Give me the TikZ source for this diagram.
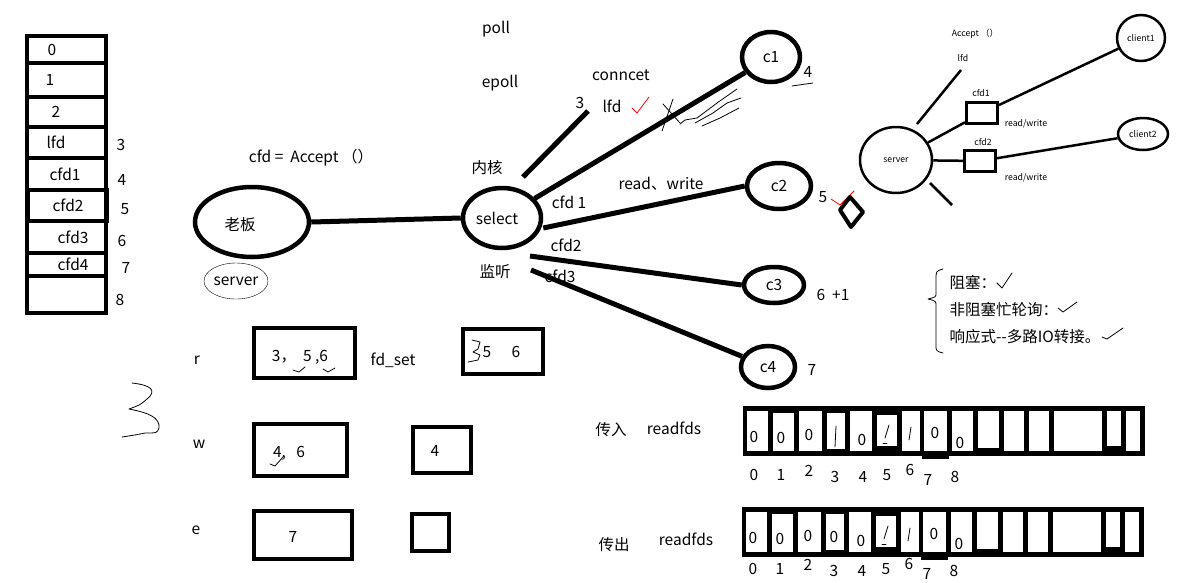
\documentclass[tikz,border=0pt]{standalone}
\usepackage{fontspec}
\setmainfont{Noto Sans CJK SC}
\usetikzlibrary{shapes.geometric}

\begin{document}
\begin{tikzpicture}[
  x=1pt,y=-1pt,
  font=\fontsize{15.5}{17}\selectfont,
  oval/.style={draw,ellipse,line width=4.5pt,inner sep=0pt},
  wire/.style={line width=5pt},
  fdbox/.style={draw,line width=4.5pt,inner sep=0pt},
  pen/.style={line width=0.8pt,line cap=round,line join=round},
  redpen/.style={pen,red},
  small/.style={font=\fontsize{8.7}{10}\selectfont},
  minioval/.style={draw,ellipse,line width=2.5pt,inner sep=0pt,small},
  minibox/.style={draw,line width=3pt,inner sep=0pt,minimum width=31pt,minimum height=21pt},
]
\useasboundingbox (0,0) rectangle (1197,582);

% descriptor table on the left
\foreach \i/\ya/\yb/\xt/\txt in {0/36/63/52/0, 1/63/97/50/1, 2/97/127/56/2,
    3/127/158/56/lfd, 4/158/190/65/cfd1, 5/190/221/68/cfd2, 6/221/253/73/cfd3,
    7/253/276/73/cfd4, 8/276/313/66/{}}
{
  \draw[line width=4.5pt] (27,\ya) rectangle (106,\yb);
  \node (fd\i) at (\xt,{(\ya+\yb)/2}) {\txt};
}
\draw[line width=4.5pt] (27,127) -- (27,158);
\draw[line width=4.5pt] (28,190) rectangle (107,221);
\foreach \n/\x/\y in {3/121/145, 4/122/180, 5/125/209, 6/122/241, 7/126/268, 8/120/300}
  \node (no\n) at (\x,\y) {\n};

% boss and select
\node[oval,minimum width=114pt,minimum height=70pt] (boss) at (252,222) {};
\node (bosstxt) at (240,225) {老板};
\node[draw,ellipse,thin,minimum width=64pt,minimum height=36pt,inner sep=0pt] (srvtag) at (236,281) {server};
\node (accept) at (311,158) {cfd =\ \ Accept （）};
\node[oval,minimum width=78pt,minimum height=60pt] (sel) at (502,218) {};
\node (seltxt) at (497,218) {select};
\node (kernel) at (487,168) {内核};
\node (listen) at (495,272) {监听};
\node (poll) at (496,29) {poll};
\node (epoll) at (500,83) {epoll};

\node[oval,minimum width=58pt,minimum height=50pt] (c1) at (771,57) {c1};
\node[oval,minimum width=64pt,minimum height=46pt] (c2) at (779,186) {c2};
\node[oval,minimum width=60pt,minimum height=36pt] (c3) at (774,285) {c3};
\node[oval,minimum width=54pt,minimum height=42pt] (c4) at (768,367) {c4};

\coordinate (lfdfoot) at (523,177);
\coordinate (lfdtop) at (588,111);
\coordinate (c3foot) at (530,256);
\coordinate (c4foot) at (531,270);

\draw[wire] (boss.east) -- (sel.west);
\draw[wire] (lfdfoot) -- (lfdtop);
\draw[wire] (sel) -- (c1);
\draw[wire] ([yshift=-10pt]sel.east) -- (c2.west);
\draw[wire] (c3foot) -- (c3.west);
\draw[wire] (c4foot) -- (c4);

\node (conn) at (621,75) {conncet};
\node (three) at (580,103) {3};
\node (lfd) at (612,106) {lfd};
\node (cfdone) at (569,202) {cfd 1};
\node (rw) at (661,184) {read、write};
\node (cfdtwo) at (566,245) {cfd2};
\node (cfdthree) at (560,276) {cfd3};
\node (four) at (808,72) {4};
\node (five) at (823,197) {5};
\node (six) at (833,295) {6\ \ +1};
\node (seven) at (812,370) {7};

% marks
\draw[redpen] (632,108) -- (637,113) -- (649,97);
\draw[redpen] (831,199) -- (840,205) -- (854,191);
\draw[pen] (792,86) -- (813,83);
\draw[pen] (673,99) -- (662,131);
\draw[pen] (663,104) -- (680,123);
\draw[pen] (680,124) -- (685,120) -- (697,118) -- (717,103) -- (737,89);
\draw[pen] (695,123) -- (713,113) -- (727,103) -- (741,98);
\draw[pen] (702,126) -- (720,118) -- (739,108);
\draw[line width=4pt,line join=round] (840,210) -- (850,197) -- (863,212) -- (851,227) -- cycle;

% small server picture
\node[minioval,minimum width=72pt,minimum height=66pt] (srv) at (896,160) {server};
\node[minibox] (bx1) at (982,113) {};
\node[minibox] (bx2) at (980,161) {};
\node[minioval,minimum width=48pt,minimum height=46pt] (cl1) at (1141,38) {client1};
\node[minioval,minimum width=50pt,minimum height=32pt] (cl2) at (1143,134) {client2};
\node[small] (macc) at (975,34) {Accept （）};
\node[small] (mlfd) at (963,58) {lfd};
\node[small] (mcfd1) at (981,93) {cfd1};
\node[small] (mcfd2) at (983,142) {cfd2};
\node[small] (mrw1) at (1026,124) {read/write};
\node[small] (mrw2) at (1026,178) {read/write};
\coordinate (mlfdfoot) at (917,124);
\coordinate (mlfdtop) at (961,70);
\coordinate (stubA) at (930,183);
\coordinate (stubB) at (952,205);
\draw[line width=2.5pt] (mlfdfoot) -- (mlfdtop);
\draw[line width=2.5pt] (srv) -- (bx1);
\draw[line width=2.5pt] (bx1) -- (cl1);
\draw[line width=2.5pt] (srv) -- (bx2);
\draw[line width=2.5pt] (bx2) -- (cl2);
\draw[line width=2.5pt] (stubA) -- (stubB);

% io models
\draw[pen] (943,269) .. controls (936,271) .. (936,280) -- (936,293)
  .. controls (936,297) .. (928,299) .. controls (936,301) .. (936,306)
  -- (936,345) .. controls (936,351) .. (943,353);
\node[anchor=west] (blk) at (946,283) {阻塞：};
\node[anchor=west] (nblk) at (946,310) {非阻塞忙轮询：};
\node[anchor=west] (mux) at (946,337) {响应式{-}{-}多路IO转接。};
\draw[pen] (997,283) -- (1002,288) -- (1012,273);
\draw[pen] (1058,308) -- (1063,312) -- (1077,302);
\draw[pen] (1102,337) -- (1107,339) -- (1123,328);

% r w e sets
\node (rlab) at (197,360) {r};
\node (wlab) at (199,444) {w};
\node (elab) at (196,530) {e};
\node[fdbox,minimum width=101pt,minimum height=50pt] (rset) at (304.5,353) {};
\node (rtxt) at (300,357) {3，\ \ 5 ,6};
\node (fdset) at (393,360) {fd\_set};
\node[fdbox,minimum width=80pt,minimum height=45pt] (rout) at (503,351.5) {};
\node (rfive) at (487,352) {5};
\node (rsix) at (516,352) {6};
\draw[pen] (472,340) -- (480,342) -- (478,349) -- (473,352) -- (480,355) -- (478,360) -- (468,362);
\draw[pen] (293,370) -- (299,372) -- (305,367);
\draw[pen] (323,369) -- (328,372) -- (335,368);
\node[fdbox,minimum width=93pt,minimum height=52pt] (wset) at (300.5,450) {};
\node (wtxt) at (289,453) {4,\ \ \ 6};
\draw[pen] (270,464) -- (275,466) -- (283,457);
\node[fdbox,minimum width=58pt,minimum height=46pt] (wout) at (442,450) {};
\node (wfour) at (435,451) {4};
\node[fdbox,minimum width=98pt,minimum height=48pt] (eset) at (303,535) {};
\node (etxt) at (293,537) {7};
\node[fdbox,minimum width=37pt,minimum height=37pt] (eout) at (430.5,532.5) {};
\draw[pen] (132,383) .. controls (150,385) and (158,390) .. (147,399)
  .. controls (140,405) .. (129,409) .. controls (150,413) and (160,418) .. (159,428)
  .. controls (157,433) .. (145,433) .. controls (135,435) .. (122,437);

% readfds bit arrays
\node (chin) at (611,430) {传入};
\node (rdin) at (674,428) {readfds};
\node (chout) at (614,545) {传出};
\node (rdout) at (686,539) {readfds};
\foreach \ox/\oy/\ly in {0/0/0, -1/101/-7}
{
  \begin{scope}[shift={(\ox,\oy)}]
    \fill (743,406) rectangle (1145,456);
    \fill (922,456) rectangle (949,459);
    \foreach \xa/\xb/\ya/\yb in {747/768/411/451, 773/794/413/451, 799/822/411/451,
        827/845/413/449, 850/872/411/451, 877/897/415/446, 902/920/411/451,
        924/947/411/451, 952/973/411/451, 978/999/411/448, 1004/1024/411/451,
        1029/1049/411/451, 1054/1102/411/451, 1107/1121/411/446, 1126/1140/411/451}
      \fill[white] (\xa,\ya) rectangle (\xb,\yb);
    \foreach \x/\y/\v in {754/437/0, 781/438/0, 809/435/0, 862/440/0, 935/433/0, 960/443/0}
      \node at (\x,\y) {\v};
    \foreach \x/\y/\n in {754/475/0, 781/475/1, 809/471/2, 835/477/3, 863/477/4,
        887/475/5, 910/470/6, 928/480/7, 955/477/8}
      \node at (\x,\y+\ly) {\n};
    \draw[pen] (889,425) -- (885,438);
    \draw[pen] (883,443) -- (887,443);
    \draw[pen] (911,427) -- (909,440);
  \end{scope}
}
\draw[pen] (836,426) -- (835,447);
\node (bitthree) at (834,537) {0};

\end{tikzpicture}
\end{document}
